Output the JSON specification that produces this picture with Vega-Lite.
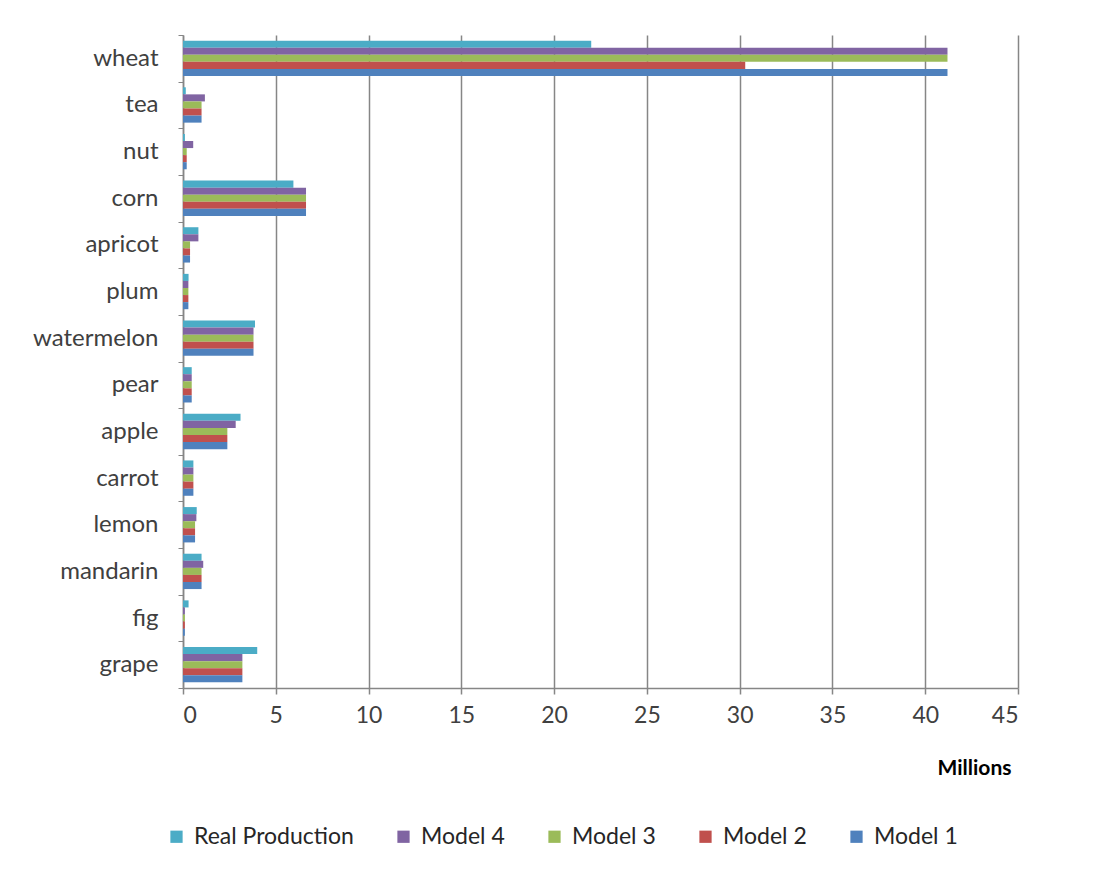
{
  "$schema": "https://vega.github.io/schema/vega-lite/v6.json",
  "width": 835,
  "height": 653,
  "autosize": {"type": "none"},
  "padding": {"left": 183, "top": 35, "right": 85, "bottom": 191},
  "background": "white",
  "config": {
    "font": "Lato",
    "view": {"stroke": null},
    "axis": {
      "labelFont": "Lato",
      "labelColor": "#404040",
      "titleFont": "Lato",
      "domainColor": "#868686",
      "tickColor": "#868686"
    }
  },
  "data": {
    "values": [
      {"crop": "wheat", "series": "Real Production", "value": 22.0},
      {"crop": "wheat", "series": "Model 4", "value": 41.2},
      {"crop": "wheat", "series": "Model 3", "value": 41.2},
      {"crop": "wheat", "series": "Model 2", "value": 30.3},
      {"crop": "wheat", "series": "Model 1", "value": 41.2},
      {"crop": "tea", "series": "Real Production", "value": 0.15},
      {"crop": "tea", "series": "Model 4", "value": 1.18},
      {"crop": "tea", "series": "Model 3", "value": 1.0},
      {"crop": "tea", "series": "Model 2", "value": 1.0},
      {"crop": "tea", "series": "Model 1", "value": 1.0},
      {"crop": "nut", "series": "Real Production", "value": 0.1},
      {"crop": "nut", "series": "Model 4", "value": 0.55},
      {"crop": "nut", "series": "Model 3", "value": 0.2},
      {"crop": "nut", "series": "Model 2", "value": 0.2},
      {"crop": "nut", "series": "Model 1", "value": 0.2},
      {"crop": "corn", "series": "Real Production", "value": 5.95},
      {"crop": "corn", "series": "Model 4", "value": 6.63},
      {"crop": "corn", "series": "Model 3", "value": 6.63},
      {"crop": "corn", "series": "Model 2", "value": 6.63},
      {"crop": "corn", "series": "Model 1", "value": 6.63},
      {"crop": "apricot", "series": "Real Production", "value": 0.83},
      {"crop": "apricot", "series": "Model 4", "value": 0.83},
      {"crop": "apricot", "series": "Model 3", "value": 0.38},
      {"crop": "apricot", "series": "Model 2", "value": 0.38},
      {"crop": "apricot", "series": "Model 1", "value": 0.38},
      {"crop": "plum", "series": "Real Production", "value": 0.3},
      {"crop": "plum", "series": "Model 4", "value": 0.29},
      {"crop": "plum", "series": "Model 3", "value": 0.29},
      {"crop": "plum", "series": "Model 2", "value": 0.29},
      {"crop": "plum", "series": "Model 1", "value": 0.29},
      {"crop": "watermelon", "series": "Real Production", "value": 3.88},
      {"crop": "watermelon", "series": "Model 4", "value": 3.8},
      {"crop": "watermelon", "series": "Model 3", "value": 3.8},
      {"crop": "watermelon", "series": "Model 2", "value": 3.8},
      {"crop": "watermelon", "series": "Model 1", "value": 3.8},
      {"crop": "pear", "series": "Real Production", "value": 0.47},
      {"crop": "pear", "series": "Model 4", "value": 0.47},
      {"crop": "pear", "series": "Model 3", "value": 0.47},
      {"crop": "pear", "series": "Model 2", "value": 0.47},
      {"crop": "pear", "series": "Model 1", "value": 0.47},
      {"crop": "apple", "series": "Real Production", "value": 3.1},
      {"crop": "apple", "series": "Model 4", "value": 2.84},
      {"crop": "apple", "series": "Model 3", "value": 2.39},
      {"crop": "apple", "series": "Model 2", "value": 2.39},
      {"crop": "apple", "series": "Model 1", "value": 2.39},
      {"crop": "carrot", "series": "Real Production", "value": 0.56},
      {"crop": "carrot", "series": "Model 4", "value": 0.56},
      {"crop": "carrot", "series": "Model 3", "value": 0.56},
      {"crop": "carrot", "series": "Model 2", "value": 0.56},
      {"crop": "carrot", "series": "Model 1", "value": 0.56},
      {"crop": "lemon", "series": "Real Production", "value": 0.74},
      {"crop": "lemon", "series": "Model 4", "value": 0.72},
      {"crop": "lemon", "series": "Model 3", "value": 0.65},
      {"crop": "lemon", "series": "Model 2", "value": 0.65},
      {"crop": "lemon", "series": "Model 1", "value": 0.65},
      {"crop": "mandarin", "series": "Real Production", "value": 1.0},
      {"crop": "mandarin", "series": "Model 4", "value": 1.09},
      {"crop": "mandarin", "series": "Model 3", "value": 1.0},
      {"crop": "mandarin", "series": "Model 2", "value": 1.0},
      {"crop": "mandarin", "series": "Model 1", "value": 1.0},
      {"crop": "fig", "series": "Real Production", "value": 0.3},
      {"crop": "fig", "series": "Model 4", "value": 0.1},
      {"crop": "fig", "series": "Model 3", "value": 0.1},
      {"crop": "fig", "series": "Model 2", "value": 0.1},
      {"crop": "fig", "series": "Model 1", "value": 0.1},
      {"crop": "grape", "series": "Real Production", "value": 4.0},
      {"crop": "grape", "series": "Model 4", "value": 3.2},
      {"crop": "grape", "series": "Model 3", "value": 3.2},
      {"crop": "grape", "series": "Model 2", "value": 3.2},
      {"crop": "grape", "series": "Model 1", "value": 3.2}
    ]
  },
  "mark": {"type": "bar", "stroke": null},
  "encoding": {
    "y": {
      "field": "crop",
      "type": "nominal",
      "sort": null,
      "scale": {"paddingInner": 0, "paddingOuter": 0},
      "axis": {
        "title": null,
        "tickBand": "extent",
        "ticks": true,
        "tickSize": 5,
        "labelFontSize": 24,
        "labelPadding": 20,
        "labelColor": "#404040",
        "domainColor": "#868686",
        "domainWidth": 1.5
      }
    },
    "yOffset": {
      "field": "series",
      "type": "nominal",
      "sort": ["Real Production", "Model 4", "Model 3", "Model 2", "Model 1"],
      "scale": {"paddingInner": 0, "paddingOuter": 0.8}
    },
    "x": {
      "field": "value",
      "type": "quantitative",
      "scale": {"domain": [0, 45], "nice": false},
      "axis": {
        "values": [0, 5, 10, 15, 20, 25, 30, 35, 40, 45],
        "grid": true,
        "gridColor": "#868686",
        "gridWidth": 1.5,
        "domainColor": "#868686",
        "domainWidth": 1.5,
        "tickSize": 6,
        "tickWidth": 1.5,
        "labelFontSize": 23,
        "labelPadding": 10,
        "title": "Millions",
        "titleFontSize": 21,
        "titleFontWeight": "bold",
        "titleColor": "#000000",
        "titleAnchor": "end",
        "titleAlign": "right",
        "titleX": 828,
        "titlePadding": 30
      }
    },
    "color": {
      "field": "series",
      "type": "nominal",
      "sort": ["Real Production", "Model 4", "Model 3", "Model 2", "Model 1"],
      "scale": {
        "domain": ["Real Production", "Model 4", "Model 3", "Model 2", "Model 1"],
        "range": ["#4BACC6", "#8064A2", "#9BBB59", "#C0504D", "#4F81BD"]
      },
      "legend": {
        "title": null,
        "orient": "none",
        "direction": "horizontal",
        "columns": 5,
        "legendX": -18,
        "legendY": 790,
        "symbolType": "square",
        "symbolSize": 150,
        "symbolStrokeWidth": 0,
        "labelFontSize": 23,
        "labelColor": "#262626",
        "labelFont": "Lato",
        "columnPadding": 38,
        "labelOffset": 6
      }
    }
  }
}
